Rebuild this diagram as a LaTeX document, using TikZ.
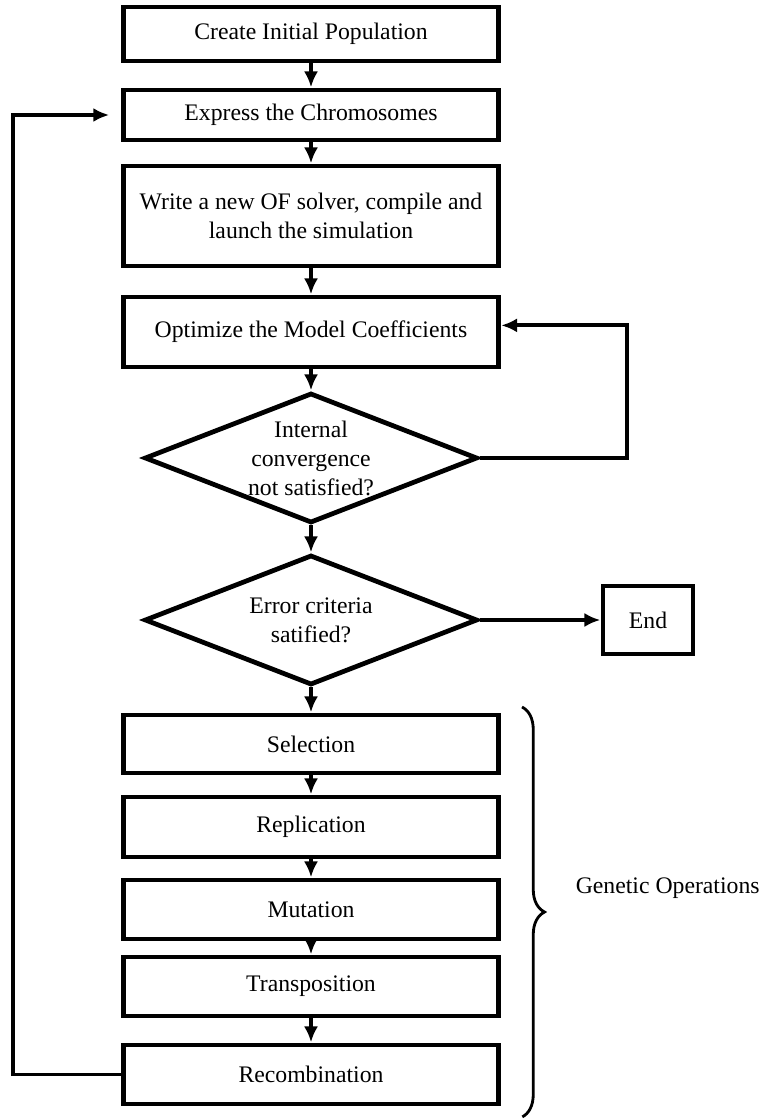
\documentclass[tikz,border=0pt]{standalone}
\usepackage{fontspec}
\setmainfont{Liberation Serif}
\usetikzlibrary{arrows.meta,shapes.geometric,decorations.pathreplacing}

\begin{document}
\begin{tikzpicture}[
	->,
	>={Latex[length=9pt,width=8pt]},
	shorten >=.2pt,
	auto,
	node distance=1.65cm,
	line width=2.2pt,
	font=\fontsize{13.5}{16.5}\selectfont,
	proc node/.style={rectangle,draw,line width=2.7pt,minimum width=7.5cm,minimum height=1.18cm,align=center},
	dec node/.style={diamond,draw,line width=2.7pt,minimum width=6.66cm,minimum height=2.6cm,inner sep=-14pt,align=center},
	end node/.style={rectangle,draw,line width=2.7pt,minimum width=1.8cm,minimum height=1.36cm}
]
\useasboundingbox (0,0) rectangle (15.28,-22.38);

\node[proc node,minimum height=1.08cm] (init) at (6.22,-0.68) {Create Initial Population};
\node[proc node,minimum height=1cm] (express) [node distance=1.62cm,below of=init] {Express the Chromosomes};
\node[proc node,minimum height=2cm] (solver) [node distance=2.02cm,below of=express] {Write a new OF solver, compile and\\launch the simulation};
\node[proc node,minimum height=1.4cm] (optimize) [node distance=2.32cm,below of=solver] {Optimize the Model Coefficients};
\node[dec node] (conv) [node distance=2.52cm,below of=optimize] {Internal\\convergence\\not satisfied?};
\node[dec node] (err) [node distance=3.24cm,below of=conv] {Error criteria\\satified?};
\node[end node] (end) [node distance=6.74cm,right of=err] {End};
\node[proc node,minimum height=1.16cm] (select) [node distance=2.48cm,below of=err] {Selection};
\node[proc node,minimum height=1.2cm] (repl) [node distance=1.66cm,below of=select] {Replication};
\node[proc node] (mut) [below of=repl] {Mutation};
\node[proc node] (trans) [node distance=1.54cm,below of=mut] {Transposition};
\node[proc node] (recomb) [node distance=1.76cm,below of=trans] {Recombination};
\node[anchor=west] (genops) at (11.36,-17.76) {Genetic Operations};

\coordinate (rloop) at (12.54,0);
\coordinate (lloop) at (0.26,0);
\coordinate (btop) at (10.44,-14.14);
\coordinate (bbot) at (10.44,-22.34);

\path
(init) edge (express)
(express) edge (solver)
(solver) edge (optimize)
(optimize) edge (conv)
(conv) edge (err)
(err) edge (select)
(err) edge (end)
(select) edge (repl)
(repl) edge (mut)
(mut) edge (trans)
(trans) edge (recomb)
;
\draw (conv.east) -| (rloop |- optimize.2) -- (optimize.2);
\draw[shorten >=0.24cm] (recomb.west) -| (lloop |- express.west) -- (express.west);
%brace round the genetic operations
\draw[-,line width=1.6pt,decorate,decoration={brace,amplitude=0.45cm}] (btop) -- (bbot);
\end{tikzpicture}
\end{document}
